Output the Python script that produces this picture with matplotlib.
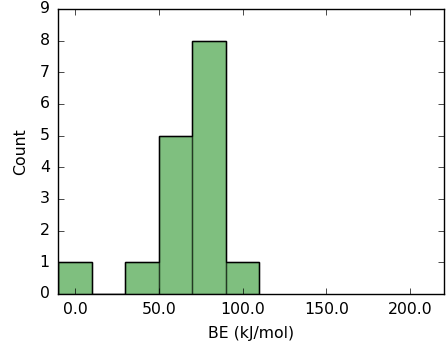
import numpy as np
import matplotlib
matplotlib.use("Agg")
import matplotlib.pyplot as plt
from matplotlib.ticker import FormatStrFormatter

plt.style.use("classic")

bin_edges = [-10, 10, 30, 50, 70, 90, 110]
counts = [1, 0, 1, 5, 8, 1]

centers = [(bin_edges[i] + bin_edges[i + 1]) / 2 for i in range(len(counts))]

fig = plt.figure(figsize=(4.47, 3.45), dpi=100, facecolor="white")
ax = fig.add_axes([0.130, 0.148, 0.863, 0.826])
ax.hist(centers, bins=bin_edges, weights=counts, color="green", alpha=0.5,
        edgecolor="black", linewidth=1)
# redraw edges fully opaque
ax.hist(centers, bins=bin_edges, weights=counts, histtype="step",
        color="black", linewidth=1)

ax.set_xlim(-10, 220)
ax.set_ylim(0, 9)
ax.set_xticks([0, 50, 100, 150, 200])
ax.set_yticks(range(10))
ax.xaxis.set_major_formatter(FormatStrFormatter("%.1f"))
ax.tick_params(labelsize=11.3, pad=6)
ax.set_xlabel("BE (kJ/mol)", fontsize=11.3, labelpad=6)
ax.set_ylabel("Count", fontsize=11.3, labelpad=8)

fig.savefig("out.png", dpi=100, facecolor="white")
